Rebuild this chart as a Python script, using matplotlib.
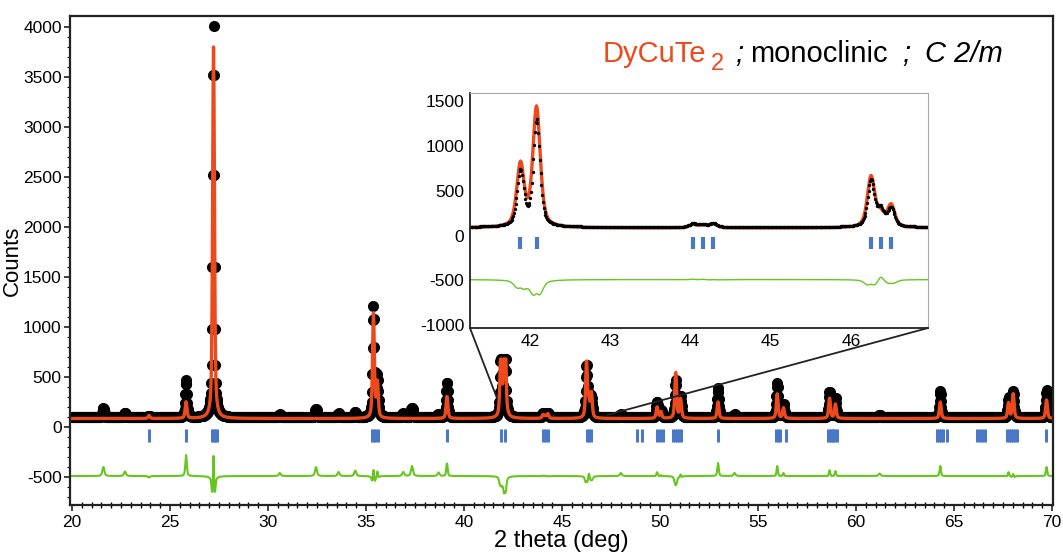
import numpy as np
import matplotlib.pyplot as plt
from matplotlib.patches import ConnectionPatch

plt.rcParams['font.family'] = ['Liberation Sans', 'DejaVu Sans']
plt.rcParams['axes.unicode_minus'] = False

# fitted reflections: position (deg), calculated and observed peak counts
peak_pos = [23.93, 25.82, 27.22, 35.38, 35.58, 39.13, 41.88, 42.08, 44.03, 44.15,
            44.28, 46.25, 46.37, 46.50, 49.85, 50.05, 50.80, 51.05, 52.96, 55.98,
            56.30, 58.65, 58.95, 64.30, 67.78, 68.02, 69.72]
peak_calc = [115, 250, 3800, 1130, 430, 310, 780, 1420, 120, 110,
             130, 650, 220, 330, 200, 150, 540, 280, 250, 330,
             190, 290, 230, 250, 240, 330, 270]
peak_obs = [100, 460, 4000, 1190, 480, 440, 700, 1270, 125, 115,
            130, 600, 270, 290, 240, 160, 450, 300, 380, 430,
            220, 350, 280, 350, 280, 350, 360]

# small unindexed bumps seen only in the measured pattern
extra_pos = [21.6, 22.7, 30.6, 32.45, 33.6, 34.45, 36.9, 37.35, 38.7, 48.0, 53.8, 61.2]
extra_h = [90, 45, 30, 90, 40, 55, 40, 100, 35, 30, 30, 25]

# Bragg positions of DyCuTe2 (C 2/m)
hkl_pos = [23.93, 25.82, 27.15, 27.22, 27.30, 27.40, 35.32, 35.40, 35.50, 35.60,
           39.13, 41.88, 42.08, 44.03, 44.15, 44.28, 46.25, 46.37, 46.50, 48.83,
           49.08, 49.85, 50.00, 50.15, 50.65, 50.75, 50.85, 50.95, 51.05, 52.96,
           55.90, 56.00, 56.10, 56.43, 58.55, 58.65, 58.75, 58.85, 58.95, 59.05,
           64.12, 64.22, 64.32, 64.42, 64.64, 66.15, 66.30, 66.45, 66.60, 67.72,
           67.82, 67.92, 68.02, 68.12, 68.22, 69.70]

background = 85
fwhm = 0.11
diff_offset = -500

RED = '#ec4a1c'
GREEN = '#66c61e'
BLUE = '#4a78c6'


def pseudo_voigt(x, pos, h, w, eta=0.55):
    t = (x - pos) / w
    return h * (eta / (1 + 4 * t ** 2) + (1 - eta) * np.exp(-4 * np.log(2) * t ** 2))


def pattern(x, heights, w, extra=True):
    y = np.full_like(x, float(background))
    for p, h in zip(peak_pos, heights):
        y += pseudo_voigt(x, p, h - background, w)
    if extra:
        for p, h in zip(extra_pos, extra_h):
            y += pseudo_voigt(x, p, h, 0.12)
    return y


tth = np.arange(20.0, 70.0, 0.02)
ycalc = pattern(tth, peak_calc, fwhm, extra=False)
yobs = pattern(tth, peak_obs, fwhm * 0.9) + 10
ydiff = yobs - ycalc + diff_offset

# the 42 deg doublet is cut off in the overview; the inset shows it in full
cut = (tth > 41.6) & (tth < 42.4)
ycalc_main = np.where(cut, np.minimum(ycalc, 680), ycalc)
yobs_main = np.where(cut, np.minimum(yobs, 680), yobs)

fig = plt.figure(figsize=(10.63, 5.6), dpi=100)
ax = fig.add_axes([0.0659, 0.0982, 0.9247, 0.8732])

ax.plot(tth, yobs_main, 'o', color='black', ms=8, mec='none')
ax.plot(tth, ycalc_main, color=RED, lw=2.4)
ax.vlines(hkl_pos, -150, -20, color=BLUE, lw=2.2)
ax.plot(tth, ydiff, color=GREEN, lw=1.5)

ax.set_xlim(19.9, 70.05)
ax.set_ylim(-780, 4110)
ax.set_xticks(np.arange(20, 71, 5))
ax.set_xticks(np.arange(20, 70.1, 0.5), minor=True)
ax.set_yticks(np.arange(-500, 4001, 500))
ax.set_yticks(np.arange(-700, 4100, 100), minor=True)
ax.tick_params(axis='both', labelsize=12.5, width=1.2, length=4, color='#222222')
ax.tick_params(axis='y', pad=2)
ax.tick_params(axis='x', which='minor', direction='inout', length=5, width=1)
ax.tick_params(axis='y', which='minor', length=2.5, width=0.8)
for s in ax.spines.values():
    s.set_linewidth(1.6)
    s.set_color('#222222')
ax.set_xlabel('2 theta (deg)', fontsize=17, labelpad=0)
ax.set_ylabel('Counts', fontsize=16, va='center')
ax.yaxis.set_label_coords(-0.059, 0.5)

# zoomed inset around 41-47 deg
ins = fig.add_axes([0.4421, 0.4143, 0.4309, 0.4196])
tth_z = np.arange(41.25, 46.97, 0.01)
ycalc_z = pattern(tth_z, peak_calc, fwhm, extra=False)
yobs_z = pattern(tth_z, peak_obs, fwhm * 0.9) + 10
ins.plot(tth_z, ycalc_z, color=RED, lw=2.4)
ins.plot(tth_z, yobs_z, 'o', color='black', ms=2.4, mec='none')
ins.vlines(hkl_pos, -150, -10, color=BLUE, lw=3)
ins.plot(tth_z, yobs_z - ycalc_z + diff_offset, color=GREEN, lw=1)
ins.set_xlim(41.25, 46.96)
ins.set_ylim(-1030, 1590)
ins.set_xticks([42, 43, 44, 45, 46])
ins.set_yticks([-1000, -500, 0, 500, 1000, 1500])
ins.tick_params(length=0, labelsize=12.5, pad=4)
ins.spines['left'].set_color('#222222')
ins.spines['bottom'].set_color('#222222')
ins.spines['left'].set_linewidth(1.3)
ins.spines['bottom'].set_linewidth(1.3)
ins.spines['top'].set_color('#aaaaaa')
ins.spines['right'].set_color('#aaaaaa')

for xa, xb in [((41.25, -1030), (41.68, 290)), ((46.96, -1030), (47.3, 120))]:
    con = ConnectionPatch(xyA=xa, coordsA=ins.transData, xyB=xb, coordsB=ax.transData,
                          color='#222222', lw=1.3)
    fig.add_artist(con)

# phase label, pieces placed along one baseline (pixel x, baseline shift)
parts = [('DyCuTe', RED, 'normal', 603, 0, 21),
         ('2', RED, 'normal', 711, -8, 17),
         (';', 'black', 'italic', 735, 0, 21),
         ('monoclinic', 'black', 'normal', 750, 0, 21),
         (';', 'black', 'italic', 902, 0, 21),
         ('C 2/m', 'black', 'italic', 925, 0, 21)]
ybase = 560 - 62
for txt, col, sty, px, dy, fs in parts:
    fig.text(px / 1063, (ybase + dy) / 560, txt, color=col, style=sty,
             fontsize=fs, va='baseline', ha='left')

fig.savefig('out.png', dpi=100)
